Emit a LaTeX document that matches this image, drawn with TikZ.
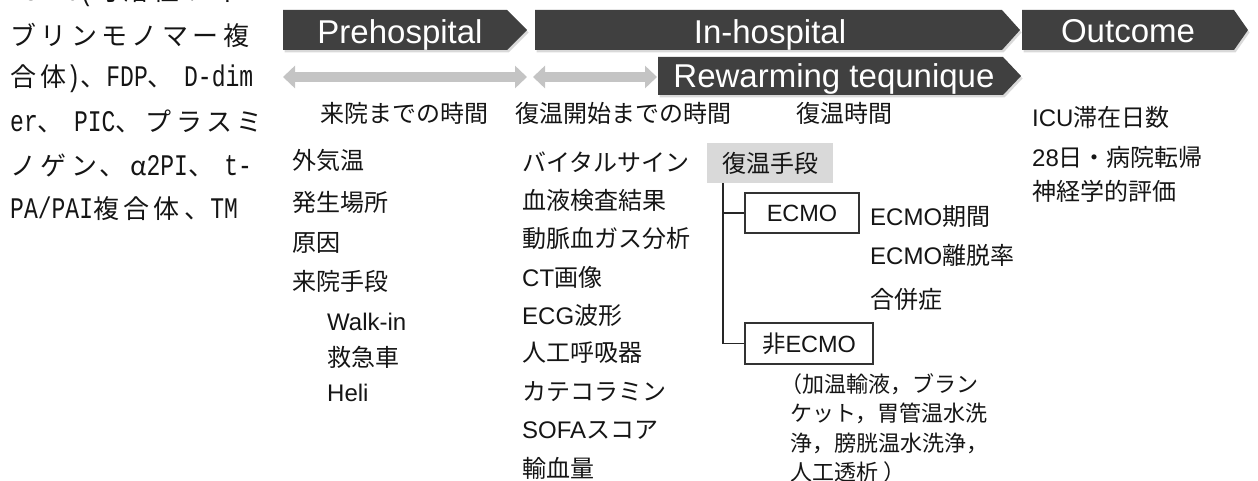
\documentclass[tikz,border=0pt]{standalone}
\usepackage{fontspec}
\setmainfont{Liberation Sans}
\newfontfamily\jp{Noto Sans CJK JP}
\newfontfamily\jpl[LetterSpace=17]{Noto Sans CJK JP}
\newfontfamily\monol[FakeStretch=0.77,Scale=1.15]{Liberation Mono}
\usetikzlibrary{arrows.meta}
\definecolor{hdr}{HTML}{404040}
\definecolor{spang}{HTML}{C4C4C4}
\definecolor{boxg}{HTML}{D9D9D9}
\definecolor{txt}{HTML}{151515}
\newcommand\lm[1]{{\monol #1}}
\newcommand\la[1]{{\rmfamily #1}}
\begin{document}
\begin{tikzpicture}[x=1pt,y=-1pt,
  hdrshape/.style={fill=hdr},
  hdrshadow/.style={fill=black,opacity=0.15},
  hdrtext/.style={text=white,inner sep=0pt,anchor=base,font=\fontsize{33}{36}\selectfont},
  lbl/.style={anchor=west,inner sep=0pt,text=txt,font=\jp\fontsize{24}{28}\selectfont},
  latlbl/.style={anchor=west,inner sep=0pt,text=txt,font=\fontsize{24}{28}\selectfont},
  paren/.style={anchor=west,inner sep=0pt,text=txt,font=\jp\fontsize{22}{26}\selectfont},
  leftcol/.style={anchor=west,inner sep=0pt,text=txt,font=\jpl\fontsize{26}{30}\selectfont},
  span/.style={draw=spang,line width=10pt,{Triangle[width=22pt,length=12pt]}-{Triangle[width=22pt,length=12pt]}},
  tree/.style={draw=black!85,line width=1.4pt},
  optbox/.style={draw=black!80,line width=1.4pt,fill=white,inner sep=0pt,text=txt,font=\fontsize{23.5}{26}\selectfont},
]
\useasboundingbox (0,0) rectangle (1258,481);

% ---- left cropped text column
\begin{scope}
\clip (0,0) rectangle (1258,481);
\node[leftcol] (l1) at (10,-7) {\lm{-SFMC(}可溶性フィ};
\node[leftcol] (l2) at (10,35) {ブリンモノマー複};
\node[leftcol] (l3) at (10,78.5) {合体\lm{)}、\lm{FDP}、 \lm{D-dim}};
\node[leftcol] (l4) at (10,121.5) {\lm{er}、 \lm{PIC}、プラスミ};
\node[leftcol] (l5) at (10,165) {ノゲン、α\lm{2PI}、 \lm{t-}};
\node[leftcol] (l6) at (10,208.5) {\lm{PA/PAI}複合体、\lm{TM}};
\end{scope}

% ---- header chevrons (shadows)
\begin{scope}[shift={(1.5,2.5)}]
\fill[hdrshadow] (283,10) -- (507,10) -- (527,30) -- (507,50) -- (283,50) -- cycle;
\fill[hdrshadow] (535,10) -- (1002,10) -- (1020,30) -- (1002,50) -- (535,50) -- cycle;
\fill[hdrshadow] (1022,10) -- (1234,10) -- (1248,30) -- (1234,50) -- (1022,50) -- cycle;
\fill[hdrshadow] (658,57) -- (1003,57) -- (1021,76) -- (1003,95) -- (658,95) -- cycle;
\end{scope}
\fill[hdrshape] (283,10) -- (507,10) -- (527,30) -- (507,50) -- (283,50) -- cycle;
\fill[hdrshape] (535,10) -- (1002,10) -- (1020,30) -- (1002,50) -- (535,50) -- cycle;
\fill[hdrshape] (1022,10) -- (1234,10) -- (1248,30) -- (1234,50) -- (1022,50) -- cycle;
\fill[hdrshape] (658,57) -- (1003,57) -- (1021,76) -- (1003,95) -- (658,95) -- cycle;
\node[hdrtext] (tpre) at (400,44) {Prehospital};
\node[hdrtext] (tin) at (770,44) {In-hospital};
\node[hdrtext] (tout) at (1128,43) {Outcome};
\node[hdrtext] (trew) at (834,88) {Rewarming tequnique};

% ---- time spans
\coordinate (s1a) at (283,77);
\coordinate (s1b) at (527,77);
\coordinate (s2a) at (533,77);
\coordinate (s2b) at (657,77);
\draw[span] (s1a) -- (s1b);
\draw[span] (s2a) -- (s2b);

% ---- row labels
\node[lbl] (r1) at (320,113) {来院までの時間};
\node[lbl] (r2) at (515,113) {復温開始までの時間};
\node[lbl] (r3) at (796,113) {復温時間};

% ---- prehospital column
\node[lbl] (p1) at (292,160) {外気温};
\node[lbl] (p2) at (292,202) {発生場所};
\node[lbl] (p3) at (292,243) {原因};
\node[lbl] (p4) at (292,281) {来院手段};
\node[latlbl] (p5) at (327,322) {Walk-in};
\node[lbl] (p6) at (327,357) {救急車};
\node[latlbl] (p7) at (327,393) {Heli};

% ---- in-hospital column
\node[lbl] (h1) at (522,162) {バイタルサイン};
\node[lbl] (h2) at (522,200) {血液検査結果};
\node[lbl] (h3) at (522,238) {動脈血ガス分析};
\node[lbl] (h4) at (522,277) {\la{CT}画像};
\node[lbl] (h5) at (522,315) {\la{ECG}波形};
\node[lbl] (h6) at (522,353) {人工呼吸器};
\node[lbl] (h7) at (522,392) {カテコラミン};
\node[lbl] (h8) at (522,430) {\la{SOFA}スコア};
\node[lbl] (h9) at (522,468) {輸血量};

% ---- rewarming technique tree
\node[fill=boxg,minimum width=126pt,minimum height=40pt,inner sep=0pt,text=txt,font=\jp\fontsize{24}{28}\selectfont] (rw) at (770,163) {復温手段};
\node[optbox,minimum width=114pt,minimum height=40pt] (ecmo) at (802,213) {ECMO};
\node[optbox,minimum width=128pt,minimum height=41pt] (necmo) at (809,343.5) {{\jp 非}ECMO};
\coordinate (tv) at ([xshift=16pt]rw.south west);
\draw[tree] (tv) |- (ecmo.west);
\draw[tree] (tv) |- (necmo.west);

\node[lbl] (e1) at (870,217) {\la{ECMO}期間};
\node[lbl] (e2) at (870,255) {\la{ECMO}離脱率};
\node[lbl] (e3) at (870,299) {合併症};

\node[paren] (n1) at (780,384) {（加温輸液，ブラン};
\node[paren] (n2) at (790,413.5) {ケット，胃管温水洗};
\node[paren] (n3) at (790,443) {浄，膀胱温水洗浄，};
\node[paren] (n4) at (790,472) {人工透析 ）};

% ---- outcome column
\node[lbl] (o1) at (1032,118) {\la{ICU}滞在日数};
\node[lbl] (o2) at (1032,157) {\la{28}日・病院転帰};
\node[lbl] (o3) at (1032,191) {神経学的評価};
\end{tikzpicture}
\end{document}
